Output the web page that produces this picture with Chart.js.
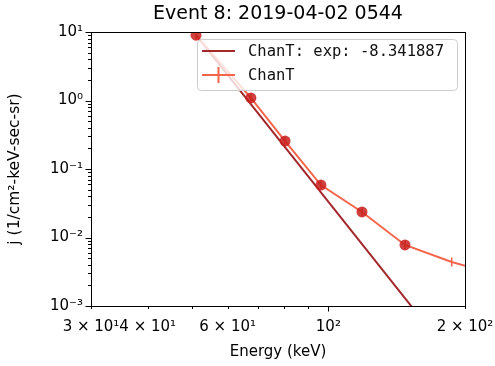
<!DOCTYPE html>
<html>
<head>
<meta charset="utf-8">
<script src="https://cdn.jsdelivr.net/npm/chart.js@4.4.0/dist/chart.umd.min.js"></script>
<style>
  html, body { margin: 0; padding: 0; background: #fff; }
  canvas { display: block; }
</style>
</head>
<body>
<canvas id="chart" width="495" height="366"></canvas>
<script>
const titleText = "Event 8: 2019-04-02 0544";
const fitLabel = "ChanT: exp: -8.341887";
const dataLabel = "ChanT";

// ChanT spectrum (keV, flux)
const energy = [51.1, 67.5, 80.3, 96.3, 118.6, 147.5, 187, 230];
const flux = [9.0, 1.09, 0.256, 0.0583, 0.0236, 0.00778, 0.00438, 0.0030];

// points used for the fit (round markers)
const markEnergy = [51.1, 67.5, 80.3, 96.3, 118.6, 147.5];
const markFlux = [9.0, 1.09, 0.256, 0.0583, 0.0236, 0.00778];

// power law fit, end points
const fitEnergy = [51.1, 160];
const fitFlux = [9.0, 0.00066];

const xTicks = [30, 40, 50, 60, 70, 80, 90, 100, 200];
const xTickLabels = ["3 × 10¹", "4 × 10¹", "", "6 × 10¹", "", "", "", "10²", "2 × 10²"];
const yDecades = [0.001, 0.01, 0.1, 1, 10];
const yTickLabels = ["10⁻³", "10⁻²", "10⁻¹", "10⁰", "10¹"];

const fitColor = "#a3282c";
const lineColor = "#f4654b";
const markColor = "rgba(200, 30, 28, 0.85)";

const yTicks = [];
yDecades.forEach((d, i) => {
  yTicks.push(d);
  if (i < yDecades.length - 1) {
    for (let k = 2; k <= 9; k++) yTicks.push(k * d);
  }
});

const pts = (xs, ys) => xs.map((x, i) => ({ x: x, y: ys[i] }));
const isDecade = v => Math.abs(Math.log10(v) - Math.round(Math.log10(v))) < 1e-6;

// title, legend, frame and tick marks
const extras = {
  id: "extras",
  afterDatasetsDraw(chart) {
    const { ctx, chartArea: a } = chart;
    ctx.save();

    // legend box
    const bx = a.right - 268, by = a.top + 7, bw = 260, bh = 51;
    ctx.beginPath();
    ctx.roundRect(bx + 0.5, by + 0.5, bw, bh, 4);
    ctx.fillStyle = "rgba(255,255,255,0.8)";
    ctx.fill();
    ctx.strokeStyle = "#cccccc";
    ctx.lineWidth = 1;
    ctx.stroke();

    const r1 = by + 12, r2 = by + 36;
    ctx.lineWidth = 2;
    ctx.strokeStyle = fitColor;
    ctx.beginPath();
    ctx.moveTo(bx + 5, r1); ctx.lineTo(bx + 38, r1);
    ctx.stroke();

    ctx.strokeStyle = lineColor;
    ctx.beginPath();
    ctx.moveTo(bx + 5, r2); ctx.lineTo(bx + 38, r2);
    ctx.moveTo(bx + 21.5, r2 - 8); ctx.lineTo(bx + 21.5, r2 + 8);
    ctx.stroke();

    ctx.fillStyle = "#111";
    ctx.font = '15.5px "DejaVu Sans Mono"';
    ctx.textBaseline = "middle";
    ctx.textAlign = "left";
    ctx.fillText(fitLabel, bx + 51, r1 + 1);
    ctx.fillText(dataLabel, bx + 51, r2 + 1);
    ctx.restore();
  },
  afterDraw(chart) {
    const { ctx, chartArea: a, scales } = chart;
    ctx.save();

    ctx.fillStyle = "#000";
    ctx.font = '19px "DejaVu Sans"';
    ctx.textAlign = "center";
    ctx.textBaseline = "middle";
    ctx.fillText(titleText, (a.left + a.right) / 2, 14);

    ctx.strokeStyle = "#000";
    ctx.lineWidth = 1;
    ctx.beginPath();
    scales.x.ticks.forEach(t => {
      const px = Math.round(scales.x.getPixelForValue(t.value)) + 0.5;
      const len = t.value === 100 ? 5.5 : 3;
      ctx.moveTo(px, a.bottom); ctx.lineTo(px, a.bottom + len);
    });
    scales.y.ticks.forEach(t => {
      const py = Math.round(scales.y.getPixelForValue(t.value)) + 0.5;
      const len = isDecade(t.value) ? 5.5 : 3;
      ctx.moveTo(a.left, py); ctx.lineTo(a.left - len, py);
    });
    ctx.stroke();

    ctx.strokeRect(Math.round(a.left) + 0.5, Math.round(a.top) + 0.5,
      Math.round(a.right - a.left), Math.round(a.bottom - a.top));
    ctx.restore();
  }
};

new Chart(document.getElementById("chart"), {
  type: "line",
  data: {
    datasets: [
      {
        label: "marks",
        data: pts(markEnergy, markFlux),
        showLine: false,
        pointRadius: 5.5,
        pointBackgroundColor: markColor,
        pointBorderWidth: 0,
        order: 0,
        clip: 0
      },
      {
        label: dataLabel,
        data: pts(energy, flux),
        borderColor: lineColor,
        borderWidth: 2,
        pointStyle: "line",
        rotation: 90,
        pointRadius: 4.5,
        pointBorderColor: lineColor,
        pointBorderWidth: 1.5,
        order: 1,
        clip: 0
      },
      {
        label: fitLabel,
        data: pts(fitEnergy, fitFlux),
        borderColor: fitColor,
        borderWidth: 2,
        pointRadius: 0,
        order: 2,
        clip: 0
      }
    ]
  },
  options: {
    responsive: false,
    animation: false,
    layout: { padding: { left: 0, right: 30, top: 32, bottom: 0 } },
    plugins: {
      legend: { display: false },
      tooltip: { enabled: false },
      title: { display: false }
    },
    scales: {
      x: {
        type: "logarithmic",
        min: 30,
        max: 200,
        grid: { display: false, drawTicks: false },
        border: { display: false },
        afterBuildTicks: axis => { axis.ticks = xTicks.map(v => ({ value: v })); },
        afterFit: axis => {
          axis.height = 60;
          axis.paddingLeft = 0;
          axis.paddingRight = 0;
        },
        ticks: {
          autoSkip: false,
          maxRotation: 0,
          minRotation: 0,
          padding: 12,
          color: "#000",
          font: { family: "DejaVu Sans", size: 15 },
          callback: (value, index) => xTickLabels[index]
        },
        title: {
          display: true,
          text: "Energy (keV)",
          color: "#000",
          font: { family: "DejaVu Sans", size: 15 },
          padding: { top: 0, bottom: 5 }
        }
      },
      y: {
        type: "logarithmic",
        min: 0.001,
        max: 10,
        grid: { display: false, drawTicks: false },
        border: { display: false },
        afterBuildTicks: axis => { axis.ticks = yTicks.map(v => ({ value: v })); },
        afterFit: axis => {
          axis.width = 91;
          axis.paddingTop = 0;
          axis.paddingBottom = 0;
        },
        ticks: {
          autoSkip: false,
          padding: 8,
          color: "#000",
          font: { family: "DejaVu Sans", size: 15 },
          callback: value => {
            const i = yDecades.findIndex(d => Math.abs(d - value) < d * 1e-6);
            return i >= 0 ? yTickLabels[i] : "";
          }
        },
        title: {
          display: true,
          text: "j (1/cm²-keV-sec-sr)",
          color: "#000",
          font: { family: "DejaVu Sans", size: 15.5 },
          padding: { top: 6, bottom: 0 }
        }
      }
    }
  },
  plugins: [extras]
});
</script>
</body>
</html>
